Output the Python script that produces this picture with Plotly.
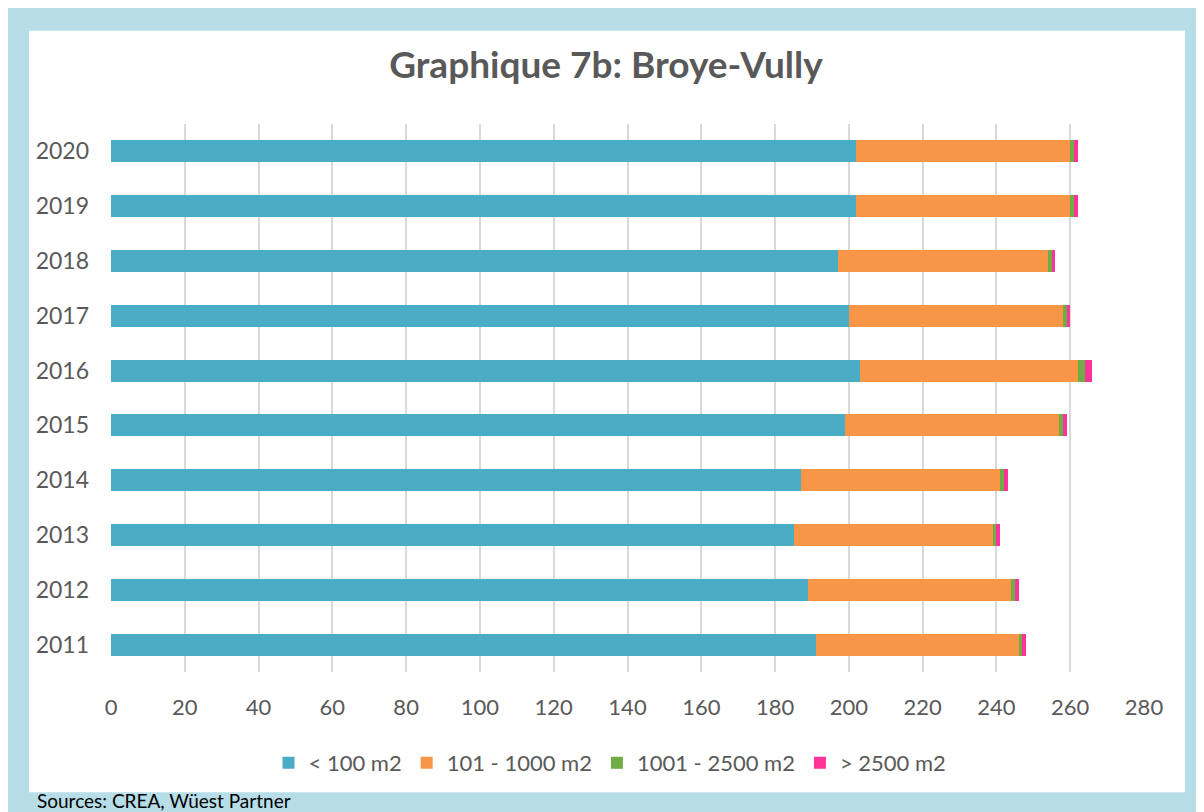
import plotly.graph_objects as go

years = ["2011", "2012", "2013", "2014", "2015", "2016", "2017", "2018", "2019", "2020"]
s_lt100 = [191, 189, 185, 187, 199, 203, 200, 197, 202, 202]
s_101_1000 = [55, 55, 54, 54, 58, 59, 58, 57, 58, 58]
s_1001_2500 = [1, 1, 1, 1, 1, 2, 1, 1, 1, 1]
s_gt2500 = [1, 1, 1, 1, 1, 2, 1, 1, 1, 1]
series_names = ["< 100 m2", "101 - 1000 m2", "1001 - 2500 m2", "> 2500 m2"]
colors = ["#4bacc6", "#f79646", "#70ad47", "#ff3399"]
x_ticks = list(range(0, 281, 20))

# page body adds an 8px offset; work in screen pixels and subtract it
OFF = 8
W, H = 1204 - OFF, 812 - OFF
L, R, T, B = 111 - OFF, 1144 - OFF, 123.5 - OFF, 672.5 - OFF

def px(x):
    return (x - OFF - L) / (R - L)

def py(y):
    return (B - (y - OFF)) / (B - T)

def cy(y):
    return 1 - (y - OFF) / H

FONT = "Lato"
GREY = "#595959"

fig = go.Figure()
for name, vals, c in zip(series_names, [s_lt100, s_101_1000, s_1001_2500, s_gt2500], colors):
    fig.add_trace(go.Bar(y=years, x=vals, name=name, orientation="h",
                         marker=dict(color=c, line=dict(width=0))))

fig.update_layout(
    width=W, height=H,
    barmode="stack", bargap=0.6,
    paper_bgcolor="white", plot_bgcolor="rgba(0,0,0,0)",
    margin=dict(l=L, r=W - R, t=T, b=H - B, pad=0),
    font=dict(family=FONT, color=GREY, size=20),
    title=dict(text="<b>Graphique 7b: Broye-Vully</b>", x=(606 - OFF) / W, xref="container",
               xanchor="center", y=cy(65), yref="container", yanchor="middle",
               font=dict(size=37, color=GREY, family=FONT)),
    xaxis=dict(range=[0, 280], tickvals=x_ticks, showgrid=True, gridcolor="#d9d9d9",
               gridwidth=2, zeroline=False, showline=False, ticks="",
               tickfont=dict(size=22, color=GREY), ticklabelstandoff=20),
    yaxis=dict(type="category", categoryorder="array", categoryarray=years,
               showgrid=False, zeroline=False, showline=False, ticks="",
               tickfont=dict(size=23, color=GREY), ticklabelstandoff=21),
    legend=dict(orientation="h", x=(610 - OFF) / W, xref="container", xanchor="center",
                y=cy(763), yref="container", yanchor="middle",
                font=dict(size=22, color=GREY), traceorder="normal",
                itemwidth=30, bgcolor="rgba(0,0,0,0)"),
    showlegend=True,
)

# background panels
fig.add_shape(type="rect", xref="paper", yref="paper", layer="below",
              x0=px(0), x1=px(1215), y0=py(825), y1=py(7),
              fillcolor="#b7dee8", line=dict(width=0))
fig.add_shape(type="rect", xref="paper", yref="paper", layer="below",
              x0=px(29), x1=px(1185), y0=py(793), y1=py(30),
              fillcolor="white", line=dict(width=0))

fig.add_annotation(text="Sources: CREA, Wüest Partner", xref="paper", yref="paper",
                   x=px(35), y=py(801), xanchor="left", yanchor="middle",
                   showarrow=False, font=dict(size=19, color="#000000", family=FONT))

fig.write_html("out.html")
